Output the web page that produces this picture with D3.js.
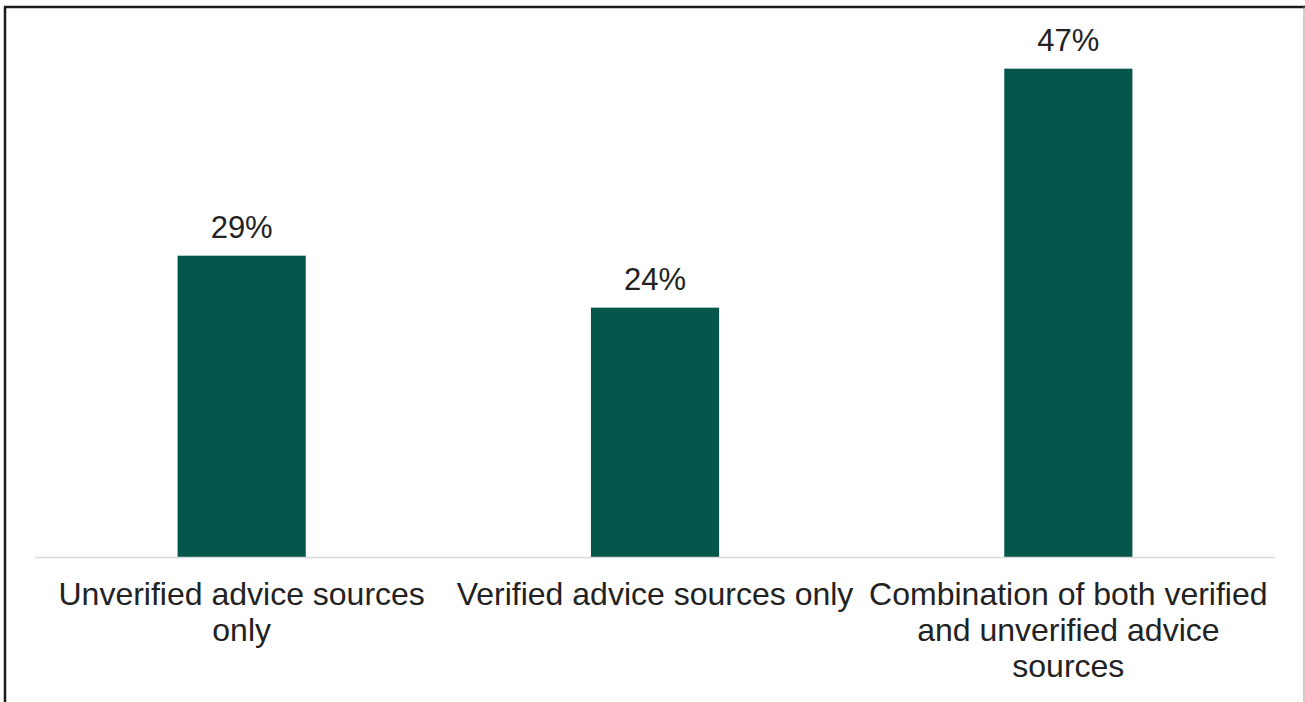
<!DOCTYPE html>
<html>
<head>
<meta charset="utf-8">
<script src="https://cdn.jsdelivr.net/npm/d3@7"></script>
<style>
  html, body { margin: 0; padding: 0; background: #ffffff; }
  svg { display: block; }
</style>
</head>
<body>
<svg id="chart" width="1305" height="702"></svg>
<script>
// Share of respondents by type of advice source used
const categories = [
  "Unverified advice sources only",
  "Verified advice sources only",
  "Combination of both verified and unverified advice sources"
];
const values = [29, 24, 47];

const W = 1305, H = 702;
const margin = { left: 35, right: 30, top: 37, baseline: 557 };
const barColor = "#04564a";
const font = "'Liberation Sans', Arial, sans-serif";

const svg = d3.select("#chart");

// frame around the chart area
svg.append("line").attr("x1", 5).attr("x2", 5).attr("y1", 7).attr("y2", H)
  .attr("stroke", "#1a1a1a").attr("stroke-width", 2.5);
svg.append("line").attr("x1", 4).attr("x2", W).attr("y1", 7).attr("y2", 7)
  .attr("stroke", "#1a1a1a").attr("stroke-width", 2.5);
svg.append("line").attr("x1", 1304).attr("x2", 1304).attr("y1", 7).attr("y2", H)
  .attr("stroke", "#9a9a9a").attr("stroke-width", 1);

const x = d3.scaleBand()
  .domain(categories)
  .range([margin.left, W - margin.right])
  .paddingInner(0.69)
  .paddingOuter(0.345);

const y = d3.scaleLinear()
  .domain([0, 50])
  .range([margin.baseline, margin.baseline - 50 * 10.39]);

// bars
svg.append("g").selectAll("rect")
  .data(categories)
  .join("rect")
  .attr("x", d => x(d))
  .attr("width", x.bandwidth())
  .attr("y", (d, i) => y(values[i]))
  .attr("height", (d, i) => y(0) - y(values[i]))
  .attr("fill", barColor);

// value labels
svg.append("g").selectAll("text")
  .data(categories)
  .join("text")
  .attr("x", d => x(d) + x.bandwidth() / 2)
  .attr("y", (d, i) => y(values[i]) - 18)
  .attr("text-anchor", "middle")
  .attr("font-family", font)
  .attr("font-size", 31)
  .attr("fill", "#222")
  .text((d, i) => values[i] + "%");

// category axis
const axis = svg.append("g")
  .attr("transform", `translate(0,${margin.baseline + 0.5})`)
  .call(d3.axisBottom(x).tickSize(0).tickPadding(0));
axis.select(".domain").attr("stroke", "#d9d9d9").attr("stroke-width", 1.5)
  .attr("d", `M${margin.left},0H${W - margin.right}`);

// wrap tick labels to the band step
const maxWidth = x.step();
axis.selectAll(".tick text").each(function (d) {
  const t = d3.select(this);
  t.text(null)
    .attr("font-family", font)
    .attr("font-size", 32)
    .attr("fill", "#222")
    .attr("text-anchor", "middle")
    .attr("y", 0)
    .attr("dy", null);
  const words = d.split(" ");
  let line = [];
  let lineNo = 0;
  let tspan = t.append("tspan").attr("x", 0).attr("y", 47);
  for (const w of words) {
    line.push(w);
    tspan.text(line.join(" "));
    if (tspan.node().getComputedTextLength() > maxWidth && line.length > 1) {
      line.pop();
      tspan.text(line.join(" "));
      line = [w];
      lineNo++;
      tspan = t.append("tspan").attr("x", 0).attr("y", 47 + lineNo * 36).text(w);
    }
  }
});
</script>
</body>
</html>
